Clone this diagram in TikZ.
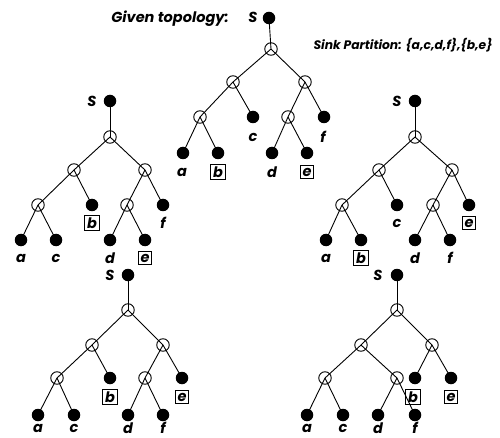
\documentclass[tikz,border=0pt]{standalone}
\usepackage{fontspec}
\setmainfont{Poppins}
\tikzset{
  sink/.style={circle,fill=black,inner sep=0pt,minimum size=12.5pt},
  stnr/.style={circle,draw=black,line width=0.9pt,inner sep=0pt,minimum size=12.5pt},
  wire/.style={line width=0.9pt},
  lbl/.style={font=\fontsize{14.5}{16}\selectfont\bfseries\itshape,inner sep=1pt},
  blbl/.style={lbl,draw,line width=0.8pt,inner sep=2.3pt},
}
\begin{document}
\begin{tikzpicture}[x=1pt,y=-1pt]
  \useasboundingbox (0,0) rectangle (500,438);

  \node[lbl] (given) at (170,19) {Given topology:};
  \node[lbl,font=\fontsize{12.3}{14}\selectfont\bfseries\itshape] (part) at (403,45) {Sink Partition: \{a,c,d,f\},\{b,e\}};

  % given topology
  \node[sink] (t0s) at (269,18) {};
  \node[stnr] (t0r) at (271,49) {};
  \node[stnr] (t0u) at (233,82) {};
  \node[stnr] (t0v) at (305,82) {};
  \node[stnr] (t0w) at (200,117) {};
  \node[sink] (t0c) at (253,117) {};
  \node[stnr] (t0x) at (288,117) {};
  \node[sink] (t0f) at (324,117) {};
  \node[sink] (t0a) at (183,153) {};
  \node[sink] (t0b) at (218,153) {};
  \node[sink] (t0d) at (272,153) {};
  \node[sink] (t0e) at (307,153) {};
  \foreach \p/\q in {s/r,r/u,r/v,u/w,u/c,v/x,v/f,w/a,w/b,x/d,x/e}{
    \draw[wire] (t0\p.center) -- (t0\q.center);
  }
  \node[lbl] (t0ls) at (253,17) {S};
  \node[lbl] (t0lc) at (253,137) {c};
  \node[lbl] (t0lf) at (323,137) {f};
  \node[lbl] (t0la) at (182,172) {a};
  \node[blbl] (t0lb) at (218,172) {b};
  \node[lbl] (t0ld) at (272,172) {d};
  \node[blbl] (t0le) at (307,172) {e};

  % left
  \node[sink] (t1s) at (110,101) {};
  \node[stnr] (t1r) at (110,137) {};
  \node[stnr] (t1u) at (74,170) {};
  \node[stnr] (t1v) at (145,170) {};
  \node[stnr] (t1w) at (38,205) {};
  \node[sink] (t1b) at (92,205) {};
  \node[stnr] (t1x) at (127,205) {};
  \node[sink] (t1f) at (163,205) {};
  \node[sink] (t1a) at (21,240) {};
  \node[sink] (t1c) at (56,240) {};
  \node[sink] (t1d) at (110,240) {};
  \node[sink] (t1e) at (145,240) {};
  \foreach \p/\q in {s/r,r/u,r/v,u/w,u/b,v/x,v/f,w/a,w/c,x/d,x/e}{
    \draw[wire] (t1\p.center) -- (t1\q.center);
  }
  \node[lbl] (t1ls) at (92,101) {S};
  \node[blbl] (t1lb) at (92,223) {b};
  \node[lbl] (t1lf) at (163,223) {f};
  \node[lbl] (t1la) at (21,258) {a};
  \node[lbl] (t1lc) at (56,258) {c};
  \node[lbl] (t1ld) at (110,258) {d};
  \node[blbl] (t1le) at (145,258) {e};

  % right
  \node[sink] (t2s) at (415,101) {};
  \node[stnr] (t2r) at (415,137) {};
  \node[stnr] (t2u) at (379,170) {};
  \node[stnr] (t2v) at (452,170) {};
  \node[stnr] (t2w) at (342,205) {};
  \node[sink] (t2c) at (397,205) {};
  \node[stnr] (t2x) at (433,205) {};
  \node[sink] (t2e) at (469,205) {};
  \node[sink] (t2a) at (326,240) {};
  \node[sink] (t2b) at (361,240) {};
  \node[sink] (t2d) at (415,240) {};
  \node[sink] (t2f) at (450,240) {};
  \foreach \p/\q in {s/r,r/u,r/v,u/w,u/c,v/x,v/e,w/a,w/b,x/d,x/f}{
    \draw[wire] (t2\p.center) -- (t2\q.center);
  }
  \node[lbl] (t2ls) at (397,101) {S};
  \node[lbl] (t2lc) at (397,223) {c};
  \node[blbl] (t2le) at (469,223) {e};
  \node[lbl] (t2la) at (326,258) {a};
  \node[blbl] (t2lb) at (361,258) {b};
  \node[lbl] (t2ld) at (415,258) {d};
  \node[lbl] (t2lf) at (450,258) {f};

  % bottom left
  \node[sink] (t3s) at (128,275) {};
  \node[stnr] (t3r) at (128,310) {};
  \node[stnr] (t3u) at (92,345) {};
  \node[stnr] (t3v) at (163,345) {};
  \node[stnr] (t3w) at (57,378) {};
  \node[sink] (t3b) at (110,378) {};
  \node[stnr] (t3x) at (145,378) {};
  \node[sink] (t3e) at (182,378) {};
  \node[sink] (t3a) at (38,415) {};
  \node[sink] (t3c) at (74,415) {};
  \node[sink] (t3d) at (128,415) {};
  \node[sink] (t3f) at (163,415) {};
  \foreach \p/\q in {s/r,r/u,r/v,u/w,u/b,v/x,v/e,w/a,w/c,x/d,x/f}{
    \draw[wire] (t3\p.center) -- (t3\q.center);
  }
  \node[lbl] (t3ls) at (110,275) {S};
  \node[blbl] (t3lb) at (110,397) {b};
  \node[blbl] (t3le) at (182,397) {e};
  \node[lbl] (t3la) at (38,428) {a};
  \node[lbl] (t3lc) at (74,428) {c};
  \node[lbl] (t3ld) at (128,428) {d};
  \node[lbl] (t3lf) at (163,428) {f};

  % bottom right
  \node[sink] (t4s) at (397,275) {};
  \node[stnr] (t4r) at (397,310) {};
  \node[stnr] (t4u) at (361,345) {};
  \node[stnr] (t4v) at (432,345) {};
  \node[stnr] (t4w) at (325,378) {};
  \node[stnr] (t4x) at (397,378) {};
  \node[sink] (t4b) at (415,378) {};
  \node[sink] (t4e) at (451,378) {};
  \node[sink] (t4a) at (307,415) {};
  \node[sink] (t4c) at (343,415) {};
  \node[sink] (t4d) at (378,415) {};
  \node[sink] (t4f) at (415,415) {};
  \foreach \p/\q in {s/r,r/u,r/v,u/w,u/x,v/b,v/e,w/a,w/c,x/d,x/f}{
    \draw[wire] (t4\p.center) -- (t4\q.center);
  }
  \node[lbl] (t4ls) at (378,275) {S};
  \node[blbl] (t4lb) at (413,397) {b};
  \node[blbl] (t4le) at (451,397) {e};
  \node[lbl] (t4la) at (307,428) {a};
  \node[lbl] (t4lc) at (343,428) {c};
  \node[lbl] (t4ld) at (378,428) {d};
  \node[lbl] (t4lf) at (415,428) {f};
\end{tikzpicture}
\end{document}
